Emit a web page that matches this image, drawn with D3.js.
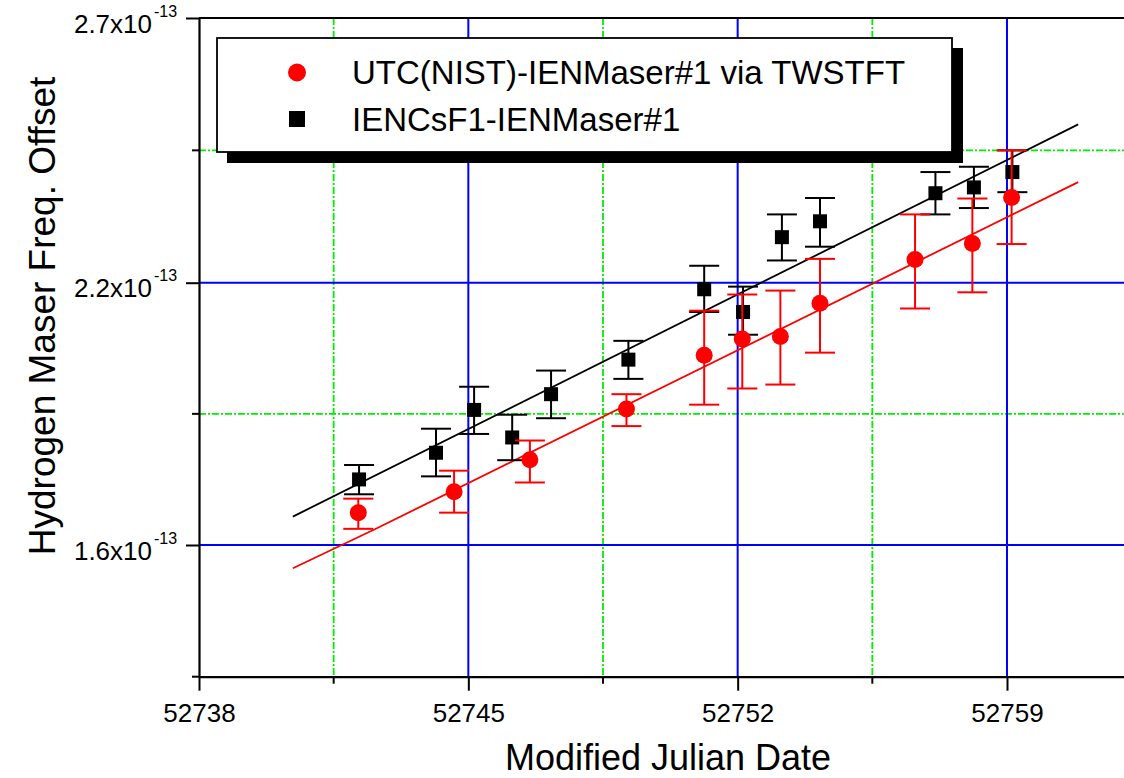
<!DOCTYPE html>
<html>
<head>
<meta charset="utf-8">
<script src="https://cdn.jsdelivr.net/npm/d3@7"></script>
<style>
  body { margin: 0; background: #fff; }
  text { font-family: "Liberation Sans", Arial, sans-serif; fill: #000; }
</style>
</head>
<body>
<div id="graph"></div>
<script>
// axis ticks
const mjdTicks = [52738, 52745, 52752, 52759];
const mjdMinor = [52741.5, 52748.5, 52755.5];
const offsetTicks = [2.7, 2.2, 1.6];     // labelled, x10^-13
const offsetMinor = [2.45, 1.9, 1.3];

// UTC(NIST)-IENMaser#1 via TWSTFT
const nistMjd = [52742.14, 52744.63, 52746.60, 52749.11, 52751.13, 52752.12, 52753.11, 52754.14, 52756.61, 52758.10, 52759.12];
const nistOffset = [1.674, 1.722, 1.795, 1.911, 2.034, 2.071, 2.077, 2.153, 2.244, 2.274, 2.361];
const nistLow = [1.637, 1.674, 1.743, 1.872, 1.921, 1.958, 1.967, 2.040, 2.141, 2.178, 2.273];
const nistHigh = [1.706, 1.770, 1.839, 1.945, 2.136, 2.173, 2.182, 2.245, 2.329, 2.359, 2.450];

// IENCsF1-IENMaser#1
const csMjd = [52742.16, 52744.16, 52745.15, 52746.14, 52747.15, 52749.16, 52751.13, 52752.14, 52753.15, 52754.14, 52757.14, 52758.14, 52759.14];
const csOffset = [1.750, 1.811, 1.909, 1.846, 1.945, 2.024, 2.185, 2.133, 2.286, 2.316, 2.369, 2.380, 2.409];
const csLow = [1.716, 1.757, 1.854, 1.794, 1.890, 1.980, 2.133, 2.081, 2.242, 2.268, 2.329, 2.341, 2.371];
const csHigh = [1.783, 1.866, 1.962, 1.898, 1.999, 2.067, 2.232, 2.191, 2.329, 2.360, 2.409, 2.419, 2.450];

// fitted lines
const nistFitMjd = [52740.44, 52742.57, 52760.85];
const nistFitOffset = [1.547, 1.636, 2.390];
const csFitMjd = [52740.44, 52760.85];
const csFitOffset = [1.665, 2.499];

const legendLabels = ['UTC(NIST)-IENMaser#1 via TWSTFT', 'IENCsF1-IENMaser#1'];

const w = 1124, h = 778;
const red = '#ff0000', blue = '#0000ff', green = '#00ee00';

const svg = d3.select('#graph').append('svg')
    .attr('width', w).attr('height', h);

const xScale = d3.scaleLinear()
    .domain([52738, 52763])
    .range([199, 199 + 25 * 38.476]);

// the axis is not evenly valued, so a piecewise scale through the tick values
const yScale = d3.scaleLinear()
    .domain([1.3, 1.6, 2.2, 2.7])
    .range([676.7, 545, 282.7, 18]);

const plotTop = yScale(2.7), plotBottom = yScale(1.3), plotLeft = xScale(52738);

// grid
const grid = svg.append('g');
grid.selectAll('.vmin').data(mjdMinor).enter().append('line')
    .attr('x1', d => xScale(d)).attr('x2', d => xScale(d))
    .attr('y1', plotTop).attr('y2', plotBottom)
    .attr('stroke', green).attr('stroke-width', 1.8).attr('stroke-dasharray', '7,2,2,2');
grid.selectAll('.hmin').data(offsetMinor.slice(0, 2)).enter().append('line')
    .attr('x1', plotLeft).attr('x2', w)
    .attr('y1', d => yScale(d)).attr('y2', d => yScale(d))
    .attr('stroke', green).attr('stroke-width', 1.8).attr('stroke-dasharray', '7,2,2,2');
grid.selectAll('.vmaj').data(mjdTicks.slice(1)).enter().append('line')
    .attr('x1', d => xScale(d)).attr('x2', d => xScale(d))
    .attr('y1', plotTop).attr('y2', plotBottom)
    .attr('stroke', blue).attr('stroke-width', 2);
grid.selectAll('.hmaj').data(offsetTicks.slice(1)).enter().append('line')
    .attr('x1', plotLeft).attr('x2', w)
    .attr('y1', d => yScale(d)).attr('y2', d => yScale(d))
    .attr('stroke', blue).attr('stroke-width', 2);

// axes
const xAxis = svg.append('g')
    .attr('transform', 'translate(0,' + plotBottom + ')')
    .call(d3.axisBottom(xScale).tickValues(mjdTicks).tickSize(14).tickSizeOuter(0)
        .tickPadding(13).tickFormat(d3.format('d')));
xAxis.selectAll('text').style('font-size', '26px').attr('dy', '0.71em');
xAxis.append('g').selectAll('line').data(mjdMinor).enter().append('line')
    .attr('x1', d => xScale(d)).attr('x2', d => xScale(d))
    .attr('y1', 0).attr('y2', 7);

const yAxis = svg.append('g')
    .attr('transform', 'translate(' + plotLeft + ',0)')
    .call(d3.axisLeft(yScale).tickValues(offsetTicks).tickSize(13).tickSizeOuter(0).tickFormat(''));
yAxis.selectAll('.tick').each(function (d) {
    const g = d3.select(this);
    g.append('text').attr('x', -47).attr('y', 14).attr('text-anchor', 'end')
        .style('font-size', '26px').text(d.toFixed(1) + 'x10');
    g.append('text').attr('x', -45).attr('y', -2).attr('text-anchor', 'start')
        .style('font-size', '16px').text('-13');
});
yAxis.append('g').selectAll('line').data(offsetMinor).enter().append('line')
    .attr('x1', -7).attr('x2', 0)
    .attr('y1', d => yScale(d)).attr('y2', d => yScale(d));

[xAxis, yAxis].forEach(a => {
    a.selectAll('path, line').attr('stroke', '#000').attr('stroke-width', 2);
    a.selectAll('.domain').attr('stroke-width', 2.2);
});

// top border
svg.append('line').attr('x1', plotLeft).attr('x2', w)
    .attr('y1', plotTop).attr('y2', plotTop).attr('stroke', '#000').attr('stroke-width', 2.2);

// fit lines
const line = d3.line().x(d => xScale(d[0])).y(d => yScale(d[1]));
svg.append('path').datum(d3.zip(csFitMjd, csFitOffset))
    .attr('d', line).attr('fill', 'none').attr('stroke', '#000').attr('stroke-width', 1.8);
svg.append('path').datum(d3.zip(nistFitMjd, nistFitOffset))
    .attr('d', line).attr('fill', 'none').attr('stroke', red).attr('stroke-width', 1.8);

function errorBars(xs, lo, hi, color) {
    const g = svg.append('g').attr('stroke', color).attr('stroke-width', 2);
    const rows = d3.zip(xs, lo, hi);
    g.selectAll('.v').data(rows).enter().append('line')
        .attr('x1', d => xScale(d[0])).attr('x2', d => xScale(d[0]))
        .attr('y1', d => yScale(d[1])).attr('y2', d => yScale(d[2]));
    [1, 2].forEach(k => {
        g.selectAll('.c' + k).data(rows).enter().append('line')
            .attr('x1', d => xScale(d[0]) - 15).attr('x2', d => xScale(d[0]) + 15)
            .attr('y1', d => yScale(d[k])).attr('y2', d => yScale(d[k]));
    });
}

// black series first, red drawn on top
errorBars(csMjd, csLow, csHigh, '#000');
svg.append('g').selectAll('rect').data(d3.zip(csMjd, csOffset)).enter().append('rect')
    .attr('x', d => xScale(d[0]) - 7).attr('y', d => yScale(d[1]) - 7)
    .attr('width', 14).attr('height', 14).attr('fill', '#000');

errorBars(nistMjd, nistLow, nistHigh, red);
svg.append('g').selectAll('circle').data(d3.zip(nistMjd, nistOffset)).enter().append('circle')
    .attr('cx', d => xScale(d[0])).attr('cy', d => yScale(d[1]))
    .attr('r', 8.5).attr('fill', red);

// legend
const legend = svg.append('g').attr('transform', 'translate(217,38)');
legend.append('rect').attr('x', 10).attr('y', 10).attr('width', 736).attr('height', 115).attr('fill', '#000');
legend.append('rect').attr('width', 735).attr('height', 114)
    .attr('fill', '#fff').attr('stroke', '#000').attr('stroke-width', 1.8);
legend.append('circle').attr('cx', 80).attr('cy', 34.5).attr('r', 9).attr('fill', red);
legend.append('rect').attr('x', 72).attr('y', 73).attr('width', 16).attr('height', 16).attr('fill', '#000');
legend.selectAll('.lt').data(legendLabels).enter().append('text')
    .attr('x', 135).attr('y', (d, i) => 46 + i * 47)
    .style('font-size', '33px').text(d => d);

// axis titles
svg.append('text').attr('x', 668).attr('y', 770).attr('text-anchor', 'middle')
    .style('font-size', '36px').text('Modified Julian Date');
svg.append('text').attr('transform', 'translate(55,316) rotate(-90)').attr('text-anchor', 'middle')
    .style('font-size', '37px').text('Hydrogen Maser Freq. Offset');
</script>
</body>
</html>
